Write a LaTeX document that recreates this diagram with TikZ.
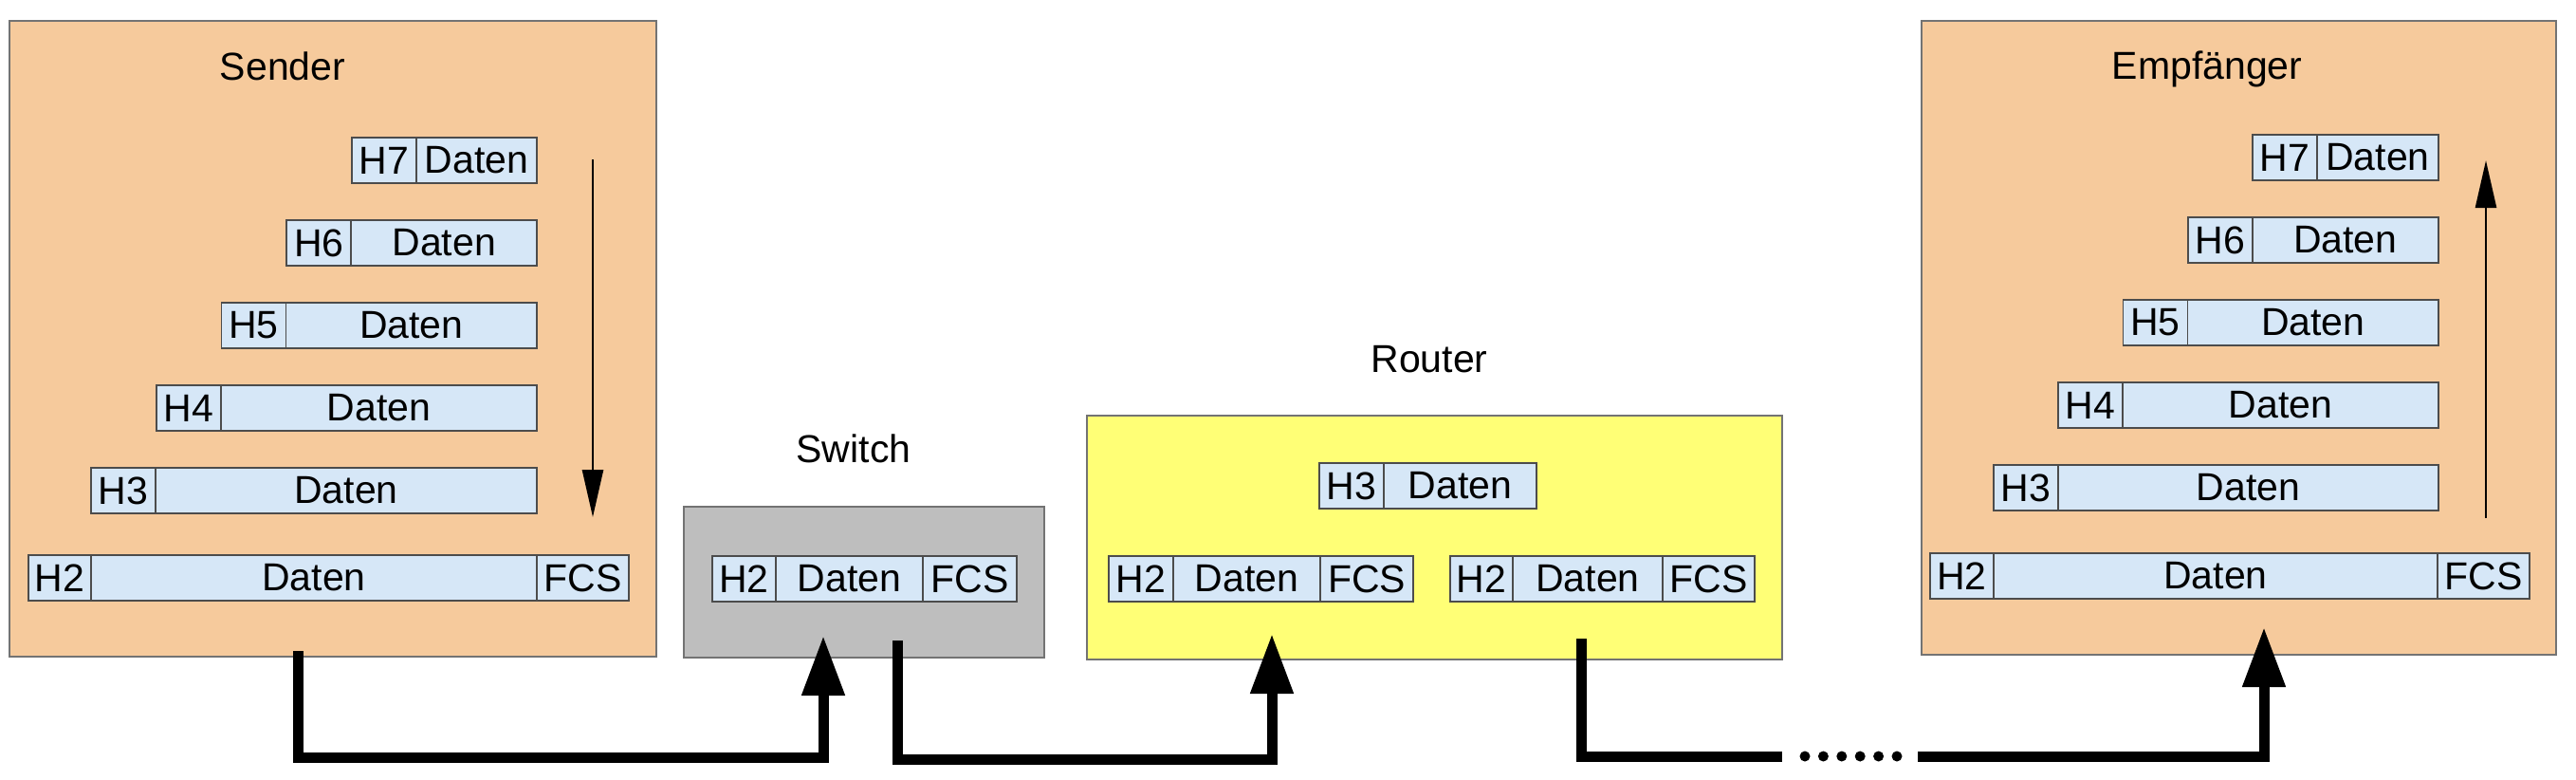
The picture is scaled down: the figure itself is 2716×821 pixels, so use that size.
\documentclass[tikz,border=0pt]{standalone}
\usepackage{fontspec}
\setmainfont{Liberation Sans}
\usetikzlibrary{arrows.meta}
\definecolor{peach}{RGB}{246,202,156}
\definecolor{cellblue}{RGB}{214,231,247}
\definecolor{switchgray}{RGB}{190,190,190}
\definecolor{routeryellow}{RGB}{255,255,118}
\tikzset{
  w/.style={minimum width=(#1)*0.5pt},
  h/.style={minimum height=(#1)*0.5pt},
  box/.style={draw=black!55, line width=1pt, inner sep=0pt, outer sep=0pt, anchor=north west},
  cell/.style={draw=black!70, fill=cellblue, line width=0.8pt, inner sep=0pt, outer sep=0pt, h=48, anchor=west},
  title/.style={anchor=base},
  link/.style={line width=5.5pt},
  linkarrow/.style={link, -{Triangle[width=21.5pt,length=31.5pt]}},
  dots/.style={line width=5.5pt, line cap=round, dash pattern=on 0pt off 9.7pt},
  stackarrow/.style={line width=1.3pt, -{Triangle[width=11pt,length=25pt]}}
}
\begin{document}
\begin{tikzpicture}[x=0.5pt, y=-0.5pt, every node/.style={font=\fontsize{20.5}{24}\selectfont}]
\useasboundingbox (0,0) rectangle (2716,821);

\node[box, fill=peach, w=682, h=670] (sender) at (10,22) {};
\node[title] (senderT) at (298,84) {Sender};
\foreach \k in {7,...,3}{
  \pgfmathsetmacro\yy{169+(7-\k)*87}
  \pgfmathsetmacro\xx{371-(7-\k)*68.75}
  \node[cell, w=68] (sh\k) at (\xx,\yy) {H\k};
  \node[cell, w=566-\xx-68] (sd\k) at (sh\k.east) {Daten};
}
\node[cell, w=66] (sh2) at (30,609) {H2};
\node[cell, w=470] (sd2) at (sh2.east) {Daten};
\node[cell, w=97] (sf2) at (sd2.east) {FCS};
\coordinate (sTop) at (625,168);
\coordinate (sBot) at (625,545);
\draw[stackarrow] (sTop) -- (sBot);

\node[box, fill=switchgray, w=380, h=159] (switch) at (721,534) {};
\node[title] (switchT) at (900,487) {Switch};
\node[cell, w=67] (swh2) at (751,610) {H2};
\node[cell, w=155] (swd2) at (swh2.east) {Daten};
\node[cell, w=99] (swf2) at (swd2.east) {FCS};

\node[box, fill=routeryellow, w=733, h=257] (router) at (1146,438) {};
\node[title] (routerT) at (1507,392) {Router};
\node[cell, w=68] (rh3) at (1391,512) {H3};
\node[cell, w=161] (rd3) at (rh3.east) {Daten};
\node[cell, w=68] (rah2) at (1169,610) {H2};
\node[cell, w=155] (rad2) at (rah2.east) {Daten};
\node[cell, w=98] (raf2) at (rad2.east) {FCS};
\node[cell, w=66] (rbh2) at (1529,610) {H2};
\node[cell, w=158] (rbd2) at (rbh2.east) {Daten};
\node[cell, w=97] (rbf2) at (rbd2.east) {FCS};

\node[box, fill=peach, w=669, h=668] (empf) at (2026,22) {};
\node[title] (empfT) at (2327,83) {Empfänger};
\foreach \k in {7,...,3}{
  \pgfmathsetmacro\yy{166+(7-\k)*87}
  \pgfmathsetmacro\xx{2375-(7-\k)*68.3}
  \node[cell, w=68] (eh\k) at (\xx,\yy) {H\k};
  \node[cell, w=2571-\xx-68] (ed\k) at (eh\k.east) {Daten};
}
\node[cell, w=67] (eh2) at (2035,607) {H2};
\node[cell, w=468] (ed2) at (eh2.east) {Daten};
\node[cell, w=97] (ef2) at (ed2.east) {FCS};
\coordinate (eBot) at (2621,546);
\coordinate (eTop) at (2621,169);
\draw[stackarrow] (eBot) -- (eTop);

\coordinate (sOut) at (314,686);
\coordinate (swIn) at (868,670);
\coordinate (swOut) at (946,675);
\coordinate (rIn) at (1341,668);
\coordinate (rOut) at (1667,673);
\coordinate (gapL) at (1879,797);
\coordinate (dotA) at (1903,797);
\coordinate (dotB) at (2001,797);
\coordinate (gapR) at (2022,797);
\coordinate (eIn) at (2387,661);
\draw[linkarrow] (sOut) -- ++(0,112) -| (swIn);
\draw[linkarrow] (swOut) -- ++(0,125) -| (rIn);
\draw[link] (rOut) |- (gapL);
\draw[dots] (dotA) -- (dotB);
\draw[linkarrow] (gapR) -| (eIn);
\end{tikzpicture}
\end{document}
